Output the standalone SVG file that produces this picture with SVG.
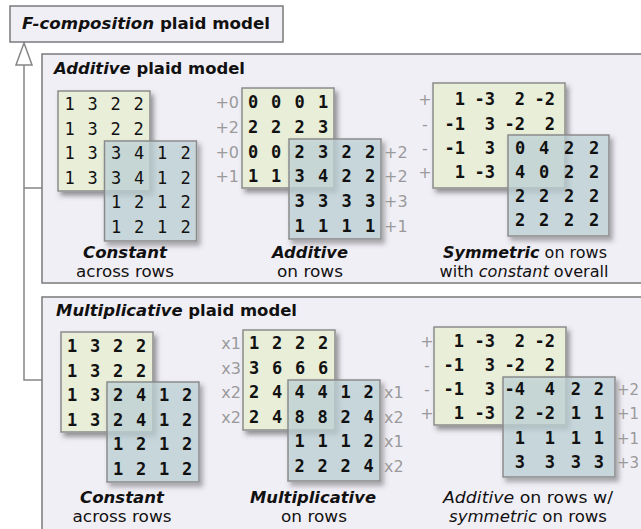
<svg xmlns="http://www.w3.org/2000/svg" width="641" height="529" viewBox="0 0 641 529">
  <defs>
    <!-- soft shadow kept outside the card so translucent cards stay clean -->
    <filter id="shadow" x="-20%" y="-20%" width="150%" height="150%">
      <feGaussianBlur in="SourceAlpha" stdDeviation="2.8" result="blur"/>
      <feOffset in="blur" dx="3" dy="4" result="off"/>
      <feComposite in="off" in2="SourceAlpha" operator="out" result="outside"/>
      <feFlood flood-color="#444" flood-opacity="0.55"/>
      <feComposite in2="outside" operator="in" result="shade"/>
      <feMerge>
        <feMergeNode in="shade"/>
        <feMergeNode in="SourceGraphic"/>
      </feMerge>
    </filter>
    <style>
      .box { fill: #f1eff6; stroke: #7a7a7a; stroke-width: 1.5; }
      .title { font-family: "DejaVu Sans", Verdana, sans-serif; font-size: 15px; font-weight: bold; fill: #111; }
      .cap { font-family: "DejaVu Sans", Verdana, sans-serif; font-size: 15px; fill: #111; text-anchor: middle; }
      .em { font-style: italic; }
      .strong { font-weight: bold; font-style: italic; }
      .yel { fill: #e8eed8; stroke: #8a8a8a; stroke-width: 1.5; filter: url(#shadow); }
      .blu { fill: #bed2d5; fill-opacity: 0.75; stroke: #8a8a8a; stroke-width: 1.5; filter: url(#shadow); }
      .num { font-family: "DejaVu Sans Mono", "Liberation Mono", monospace; font-size: 17px; font-weight: bold; fill: #111; text-anchor: middle; }
      .numr { font-family: "DejaVu Sans Mono", "Liberation Mono", monospace; font-size: 17px; font-weight: bold; fill: #111; text-anchor: end; }
      .lab { font-family: "DejaVu Sans", Verdana, sans-serif; font-size: 16px; fill: #9a9a9a; }
      .edge { fill: none; stroke: #858585; stroke-width: 1.5; }
    </style>
  </defs>

  <rect width="641" height="529" fill="#ffffff"/>

  <!-- connectors: generalisation arrow from both panels to the top model -->
  <g id="connectors">
    <path class="edge" d="M24 65 V380 H42 M24 188 H42"/>
    <polygon points="24,43 16,65 32,65" fill="#ffffff" stroke="#858585" stroke-width="1.5"/>
  </g>

  <g id="f-composition">
    <rect class="box" x="10" y="6" width="273" height="36"/>
    <text class="title" x="22" y="29" textLength="248" lengthAdjust="spacingAndGlyphs"><tspan class="em">F-composition</tspan> plaid model</text>
  </g>

  <!-- additive panel -->
  <g id="additive">
    <rect class="box" x="42" y="54" width="640" height="229"/>
    <text class="title" x="54" y="74" textLength="191" lengthAdjust="spacingAndGlyphs"><tspan class="em">Additive</tspan> plaid model</text>

    <g id="add-constant">
      <rect class="yel" x="58" y="91" width="92" height="100"/>
      <text class="num" style="font-weight:normal" x="69.5 92.5 115.5 138.5" y="110">1322</text>
      <text class="num" style="font-weight:normal" x="69.5 92.5 115.5 138.5" y="134.5">1322</text>
      <text class="num" style="font-weight:normal" x="69.5 92.5" y="159">13</text>
      <text class="num" style="font-weight:normal" x="69.5 92.5" y="183.5">13</text>
      <rect class="blu" x="104.5" y="141" width="92" height="100"/>
      <text class="num" style="font-weight:normal" x="116 139 162 185.5" y="159">3412</text>
      <text class="num" style="font-weight:normal" x="116 139 162 185.5" y="183.5">3412</text>
      <text class="num" style="font-weight:normal" x="116 139 162 185.5" y="208">1212</text>
      <text class="num" style="font-weight:normal" x="116 139 162 185.5" y="232.5">1212</text>
      <text class="cap" x="125" y="258" textLength="84" lengthAdjust="spacingAndGlyphs"><tspan class="strong">Constant</tspan></text>
      <text class="cap" x="125" y="277" textLength="98" lengthAdjust="spacingAndGlyphs">across rows</text>
    </g>

    <g id="add-additive">
      <rect class="yel" x="242" y="88" width="92" height="100"/>
      <text class="num" x="253 276 299.5 323" y="108">0001</text>
      <text class="num" x="253 276 299.5 323" y="133">2223</text>
      <text class="num" x="253 276" y="157.5">00</text>
      <text class="num" x="253 276" y="182">11</text>
      <rect class="blu" x="289" y="139" width="92" height="100"/>
      <text class="num" x="299.5 323 346.5 370" y="157.5">2322</text>
      <text class="num" x="299.5 323 346.5 370" y="182">3422</text>
      <text class="num" x="299.5 323 346.5 370" y="207">3333</text>
      <text class="num" x="299.5 323 346.5 370" y="231.5">1111</text>
      <g class="lab" text-anchor="end">
        <text x="239" y="108">+0</text>
        <text x="239" y="133">+2</text>
        <text x="239" y="157.5">+0</text>
        <text x="239" y="182">+1</text>
      </g>
      <g class="lab">
        <text x="384" y="157.5">+2</text>
        <text x="384" y="182">+2</text>
        <text x="384" y="207">+3</text>
        <text x="384" y="231.5">+1</text>
      </g>
      <text class="cap" x="310" y="258" textLength="76" lengthAdjust="spacingAndGlyphs"><tspan class="strong">Additive</tspan></text>
      <text class="cap" x="310" y="277" textLength="66" lengthAdjust="spacingAndGlyphs">on rows</text>
    </g>

    <g id="add-symmetric">
      <rect class="yel" x="433" y="83" width="132" height="105"/>
      <text class="numr" y="105"><tspan x="465">1</tspan><tspan x="495">-3</tspan><tspan x="525">2</tspan><tspan x="555">-2</tspan></text>
      <text class="numr" y="129.5"><tspan x="465">-1</tspan><tspan x="495">3</tspan><tspan x="525">-2</tspan><tspan x="555">2</tspan></text>
      <text class="numr" y="153.5"><tspan x="465">-1</tspan><tspan x="495">3</tspan></text>
      <text class="numr" y="177.5"><tspan x="465">1</tspan><tspan x="495">-3</tspan></text>
      <rect class="blu" x="508" y="135" width="101" height="101"/>
      <text class="num" x="520 544 569 594" y="153.5">0422</text>
      <text class="num" x="520 544 569 594" y="177.5">4022</text>
      <text class="num" x="520 544 569 594" y="202">2222</text>
      <text class="num" x="520 544 569 594" y="226">2222</text>
      <g class="lab" text-anchor="middle">
        <text x="425" y="105">+</text>
        <text x="425" y="129.5">-</text>
        <text x="425" y="153.5">-</text>
        <text x="425" y="177.5">+</text>
      </g>
      <text class="cap" x="525" y="258" textLength="164" lengthAdjust="spacingAndGlyphs"><tspan class="strong">Symmetric</tspan> on rows</text>
      <text class="cap" x="524" y="277" textLength="169" lengthAdjust="spacingAndGlyphs">with <tspan class="em">constant</tspan> overall</text>
    </g>
  </g>

  <!-- multiplicative panel -->
  <g id="multiplicative">
    <rect class="box" x="42" y="297" width="640" height="260"/>
    <text class="title" x="56" y="316" textLength="241" lengthAdjust="spacingAndGlyphs"><tspan class="em">Multiplicative</tspan> plaid model</text>

    <g id="mul-constant">
      <rect class="yel" x="61" y="332" width="92" height="100"/>
      <text class="num" x="72 95 118 141" y="352">1322</text>
      <text class="num" x="72 95 118 141" y="376.5">1322</text>
      <text class="num" x="72 95" y="401">13</text>
      <text class="num" x="72 95" y="425.5">13</text>
      <rect class="blu" x="107" y="382" width="92" height="100"/>
      <text class="num" x="118 141 164 187" y="401">2412</text>
      <text class="num" x="118 141 164 187" y="425.5">2412</text>
      <text class="num" x="118 141 164 187" y="450">1212</text>
      <text class="num" x="118 141 164 187" y="474.5">1212</text>
      <text class="cap" x="122" y="503" textLength="84" lengthAdjust="spacingAndGlyphs"><tspan class="strong">Constant</tspan></text>
      <text class="cap" x="122" y="522" textLength="99" lengthAdjust="spacingAndGlyphs">across rows</text>
    </g>

    <g id="mul-multiplicative">
      <rect class="yel" x="243" y="330" width="92" height="100"/>
      <text class="num" x="254 277 300 323" y="349">1222</text>
      <text class="num" x="254 277 300 323" y="373.5">3666</text>
      <text class="num" x="254 277" y="398">24</text>
      <text class="num" x="254 277" y="422.5">24</text>
      <rect class="blu" x="288" y="380" width="92" height="101"/>
      <text class="num" x="299.5 322.5 345.5 368.5" y="398">4412</text>
      <text class="num" x="299.5 322.5 345.5 368.5" y="422.5">8824</text>
      <text class="num" x="299.5 322.5 345.5 368.5" y="447">1112</text>
      <text class="num" x="299.5 322.5 345.5 368.5" y="471.5">2224</text>
      <g class="lab" text-anchor="end">
        <text x="241" y="349">x1</text>
        <text x="241" y="373.5">x3</text>
        <text x="241" y="398">x2</text>
        <text x="241" y="422.5">x2</text>
      </g>
      <g class="lab">
        <text x="384" y="398">x1</text>
        <text x="384" y="422.5">x2</text>
        <text x="384" y="447">x1</text>
        <text x="384" y="471.5">x2</text>
      </g>
      <text class="cap" x="313" y="503" textLength="126" lengthAdjust="spacingAndGlyphs"><tspan class="strong">Multiplicative</tspan></text>
      <text class="cap" x="314" y="522" textLength="66" lengthAdjust="spacingAndGlyphs">on rows</text>
    </g>

    <g id="mul-additive-symmetric">
      <rect class="yel" x="434" y="327" width="132" height="98"/>
      <text class="numr" y="347"><tspan x="464">1</tspan><tspan x="495">-3</tspan><tspan x="525">2</tspan><tspan x="555">-2</tspan></text>
      <text class="numr" y="371"><tspan x="464">-1</tspan><tspan x="495">3</tspan><tspan x="525">-2</tspan><tspan x="555">2</tspan></text>
      <text class="numr" y="394.5"><tspan x="464">-1</tspan><tspan x="495">3</tspan></text>
      <text class="numr" y="418.5"><tspan x="464">1</tspan><tspan x="495">-3</tspan></text>
      <rect class="blu" x="503" y="377" width="112" height="100"/>
      <text class="numr" y="394.5"><tspan x="525">-4</tspan><tspan x="555">4</tspan><tspan x="581">2</tspan><tspan x="604">2</tspan></text>
      <text class="numr" y="418.5"><tspan x="525">2</tspan><tspan x="555">-2</tspan><tspan x="581">1</tspan><tspan x="604">1</tspan></text>
      <text class="numr" y="444"><tspan x="525">1</tspan><tspan x="555">1</tspan><tspan x="581">1</tspan><tspan x="604">1</tspan></text>
      <text class="numr" y="468"><tspan x="525">3</tspan><tspan x="555">3</tspan><tspan x="581">3</tspan><tspan x="604">3</tspan></text>
      <g class="lab" text-anchor="middle">
        <text x="427" y="347">+</text>
        <text x="427" y="371">-</text>
        <text x="427" y="394.5">-</text>
        <text x="427" y="418.5">+</text>
      </g>
      <g class="lab" style="font-size:15px">
        <text x="617" y="394.5">+2</text>
        <text x="617" y="418.5">+1</text>
        <text x="617" y="444">+1</text>
        <text x="617" y="468">+3</text>
      </g>
      <text class="cap" x="528" y="503" textLength="170" lengthAdjust="spacingAndGlyphs"><tspan class="em">Additive</tspan> on rows w/</text>
      <text class="cap" x="528" y="522" textLength="158" lengthAdjust="spacingAndGlyphs"><tspan class="em">symmetric</tspan> on rows</text>
    </g>
  </g>
</svg>
